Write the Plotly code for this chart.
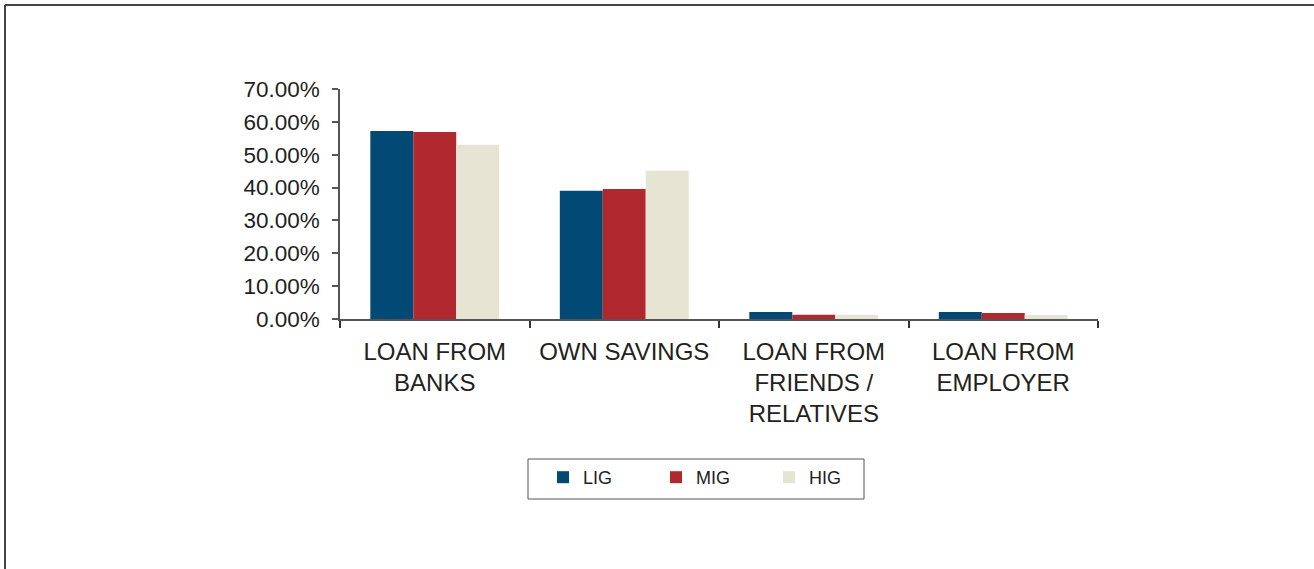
import plotly.graph_objects as go

categories = ["LOAN FROM<br>BANKS", "OWN SAVINGS", "LOAN FROM<br>FRIENDS /<br>RELATIVES", "LOAN FROM<br>EMPLOYER"]
series_names = ["LIG", "MIG", "HIG"]
lig = [0.572, 0.390, 0.021, 0.021]
mig = [0.569, 0.396, 0.013, 0.018]
hig = [0.530, 0.451, 0.013, 0.012]
colors = ["#024a75", "#b1282f", "#e6e4d3"]

font_family = "Liberation Sans, Arial, Helvetica, sans-serif"
text_color = "#231f20"

# plot area in pixels
L, R, T, B = 340, 1098, 89, 319
W, H = R - L, B - T

def px(x):
    return (x - L) / W

def py(y):
    return (B - y) / H

fig = go.Figure()
for name, vals, col in zip(series_names, [lig, mig, hig], colors):
    fig.add_trace(go.Bar(x=categories, y=vals, name=name, marker=dict(color=col, line=dict(width=0))))

fig.update_layout(
    width=1314, height=569,
    barmode="group", bargap=0.32, bargroupgap=0,
    plot_bgcolor="white", paper_bgcolor="white",
    margin=dict(l=L, r=1314 - R, t=T, b=569 - B),
    font=dict(family=font_family, color=text_color),
    showlegend=True,
    legend=dict(
        orientation="h", x=px(543), xanchor="left", y=py(459), yanchor="top",
        borderwidth=0, bgcolor="rgba(0,0,0,0)",
        font=dict(size=18, color=text_color, family=font_family),
        entrywidth=68, entrywidthmode="pixels",
        itemsizing="constant", traceorder="normal",
    ),
    xaxis=dict(
        showline=True, linecolor="#555555", linewidth=1.5,
        ticks="outside", ticklen=7, tickcolor="#333333", tickwidth=1.5,
        tickson="boundaries", showgrid=False,
        tickfont=dict(size=24, color=text_color, family=font_family),
        ticklabelstandoff=10,
        fixedrange=True,
    ),
    yaxis=dict(
        range=[0, 0.7], dtick=0.1, tickformat=".2%",
        showline=True, linecolor="#555555", linewidth=1.5,
        ticks="outside", ticklen=6, tickcolor="#555555", tickwidth=1.5,
        showgrid=False, zeroline=False,
        tickfont=dict(size=22.5, color=text_color, family=font_family),
        ticklabelstandoff=8,
        fixedrange=True,
    ),
)

# legend box
fig.add_shape(type="rect", xref="paper", yref="paper", x0=px(528), x1=px(864),
              y0=py(459), y1=py(499), line=dict(color="#555555", width=1))

# outer frame (top and left edges)
fig.add_shape(type="line", xref="paper", yref="paper", x0=px(5), x1=px(1314),
              y0=py(5), y1=py(5), line=dict(color="#444444", width=2))
fig.add_shape(type="line", xref="paper", yref="paper", x0=px(5), x1=px(5),
              y0=py(5), y1=py(569), line=dict(color="#444444", width=2))

fig.write_html("out.html", config={"displayModeBar": False},
               post_script="document.body.style.margin='0';")
